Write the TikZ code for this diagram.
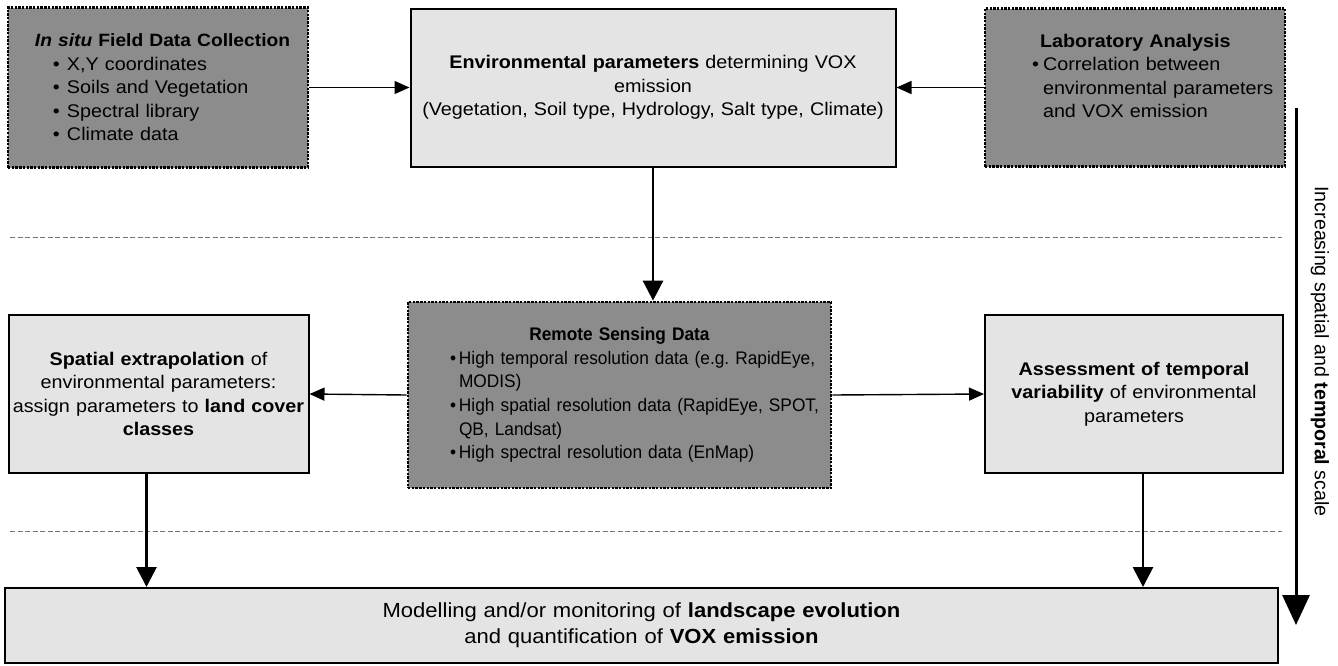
\documentclass[tikz,border=0pt]{standalone}
\usepackage{fontspec}
\setmainfont[FakeStretch=1.08]{Liberation Sans}
\newfontfamily\plainfont{Liberation Sans}
\newfontfamily\rsfont[FakeStretch=0.95]{Liberation Sans}
\usetikzlibrary{arrows.meta}
\setlength{\parindent}{0pt}
\definecolor{darkfill}{RGB}{140,140,140}
\definecolor{lightfill}{RGB}{228,228,228}
\newcommand{\bul}[1]{\makebox[#1][l]{•}}
\begin{document}
\begin{tikzpicture}[x=1pt,y=-1pt,
  base/.style={inner sep=0pt, font=\fontsize{18.3}{23.5}\selectfont, text=black},
  darkbox/.style={base, draw=black, fill=darkfill, line width=2.8pt, dash pattern=on 2.4pt off 1.3pt},
  lightbox/.style={base, draw=black, fill=lightfill, line width=2pt},
  thinarrow/.style={line width=1.4pt, -{Triangle[length=15pt,width=13pt]}},
  thickarrow/.style={line width=2.8pt, -{Triangle[length=20pt,width=20pt]}},
  bigarrow/.style={line width=3pt, -{Triangle[length=30pt,width=27pt]}},
  sepline/.style={draw=black!55, line width=0.9pt, dash pattern=on 5pt off 2.5pt}
]
\useasboundingbox[fill=white] (0,0) rectangle (1338,665);

% separators
\draw[sepline] (10,237) -- (1282,237);
\draw[sepline] (10,531) -- (1282,531);

% top row
\node[darkbox, minimum width=300, minimum height=160, text width=300] (field) at (158,87.5) {%
  \leftskip=27pt{\fontsize{17.8}{23.5}\selectfont\textbf{\textit{In situ} Field Data Collection}}\par
  \leftskip=45pt\bul{14pt}X,Y coordinates\par
  \bul{14pt}Soils and Vegetation\par
  \bul{14pt}Spectral library\par
  \bul{14pt}Climate data\par};

\node[lightbox, minimum width=485, minimum height=158, text width=485, align=center] (env) at (653,87.5) {%
  \textbf{Environmental parameters} determining VOX\\ emission\\ (Vegetation, Soil type, Hydrology, Salt type, Climate)};

\node[darkbox, minimum width=300, minimum height=158, text width=300] (lab) at (1135,87.5) {%
  \leftskip=55pt\textbf{Laboratory Analysis}\par
  \leftskip=47pt\hangindent=11pt\hangafter=1 \bul{11pt}Correlation between\newline environmental parameters\newline and VOX emission\par
  \mbox{}\par};

% middle row
\node[lightbox, minimum width=300, minimum height=158, text width=300, align=center] (spatial) at (158.5,394) {%
  \textbf{Spatial extrapolation} of\\ environmental parameters:\\ assign parameters to \textbf{land cover}\\ \textbf{classes}};

\node[darkbox, minimum width=423, minimum height=186, text width=423,
      font=\rsfont\fontsize{18.2}{23.6}\selectfont] (rs) at (619.5,395) {%
  {\centering\textbf{Remote Sensing Data}\par}
  \leftskip=42pt\rightskip=3pt\parfillskip=0pt plus 1fil
  \hangindent=9pt\hangafter=1 \bul{9pt}High temporal resolution data (e.g.\ RapidEye,\linebreak MODIS)\par
  \hangindent=9pt\hangafter=1 \bul{9pt}High spatial resolution data (RapidEye, SPOT,\linebreak QB, Landsat)\par
  \hangindent=9pt\hangafter=1 \bul{9pt}High spectral resolution data (EnMap)\par};

\node[lightbox, minimum width=298, minimum height=158, text width=298, align=center] (assess) at (1134,394) {%
  \textbf{Assessment of temporal}\\ \textbf{variability} of environmental\\ parameters};

% bottom
\node[lightbox, minimum width=1273, minimum height=75, text width=1273, align=center,
      font=\fontsize{20.4}{26}\selectfont] (bottom) at (641.5,625.5) {%
  Modelling and/or monitoring of \textbf{landscape evolution}\\ and quantification of \textbf{VOX emission}};

% connectors
\draw[thinarrow] (field.east) -- (env.west);
\draw[thinarrow] (lab.west) -- (env.east);
\draw[thickarrow] (env.south) -- (env.south |- rs.north);
\draw[thinarrow] (rs.west) -- (spatial.east);
\draw[thinarrow] (rs.east) -- (assess.west);
\draw[thickarrow] ([xshift=-12pt]spatial.south) -- ([xshift=-12pt]spatial.south |- bottom.north);
\draw[thickarrow] ([xshift=9pt]assess.south) -- ([xshift=9pt]assess.south |- bottom.north);

% scale arrow
\coordinate (scaletop) at (1296,108);
\coordinate (scalebot) at (1296,625);
\draw[bigarrow] (scaletop) -- (scalebot);
\node[base, rotate=-90, font=\plainfont\fontsize{19.6}{22}\selectfont] (scalelabel) at (1320,351.5)
  {Increasing spatial and \textbf{temporal} scale};
\end{tikzpicture}
\end{document}
